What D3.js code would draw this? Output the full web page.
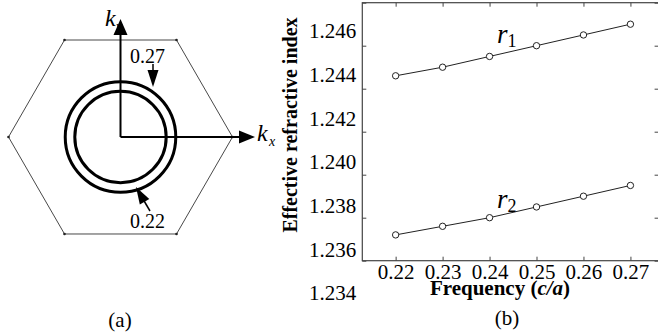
<!DOCTYPE html>
<html>
<head>
<meta charset="utf-8">
<script src="https://cdn.jsdelivr.net/npm/d3@7/dist/d3.min.js"></script>
<style>
  body { margin: 0; background: #fff; }
  svg { display: block; }
  svg text { font-family: "Liberation Serif", "Times New Roman", serif; }
</style>
</head>
<body>
<svg id="fig"></svg>
<script>
var width = 658;
var height = 333;

// panel (b) data
var freq = [0.22, 0.23, 0.24, 0.25, 0.26, 0.27];
var r1 = [1.2426, 1.2430, 1.2435, 1.2440, 1.2445, 1.2450];
var r2 = [1.2352, 1.2356, 1.2360, 1.2365, 1.2370, 1.2375];
var yTicks = [1.246, 1.244, 1.242, 1.240, 1.238, 1.236, 1.234];
var xTicks = [0.22, 0.23, 0.24, 0.25, 0.26, 0.27];

// panel (a): contour radii (units of 2pi/a), and the zone edge (K point)
var contourFreq = ["0.22", "0.27"];
var contourK = [0.272, 0.329];
var kEdge = 2 / 3;

var svg = d3.select("#fig")
    .attr("width", width)
    .attr("height", height);

// ---------- panel (a) ----------
var cx = 120.5, cy = 137;
var kx = d3.scaleLinear().domain([-kEdge, kEdge]).range([cx - 112, cx + 112]);
var ky = d3.scaleLinear().domain([-kEdge, kEdge]).range([cy + 112, cy - 112]);

var ga = svg.append("g");

var hex = d3.range(6).map(function(i){
  var a = i * Math.PI / 3;
  return [kx(kEdge * Math.cos(a)), ky(kEdge * Math.sin(a))];
});
ga.append("path")
    .attr("d", d3.line()(hex) + "Z")
    .attr("fill", "none")
    .attr("stroke", "#333")
    .attr("stroke-width", 0.9);
ga.selectAll(".vtx").data(hex).enter().append("circle")
    .attr("cx", function(d){ return d[0]; })
    .attr("cy", function(d){ return d[1]; })
    .attr("r", 1.3)
    .attr("fill", "#222");

ga.selectAll(".contour").data(contourK).enter().append("circle")
    .attr("cx", kx(0))
    .attr("cy", ky(0))
    .attr("r", function(d){ return kx(d) - kx(0); })
    .attr("fill", "none")
    .attr("stroke", "#000")
    .attr("stroke-width", 3);

// k axes
ga.append("line")
    .attr("x1", kx(0)).attr("y1", ky(0))
    .attr("x2", kx(0)).attr("y2", 34)
    .attr("stroke", "#000").attr("stroke-width", 2);
ga.append("line")
    .attr("x1", kx(0)).attr("y1", ky(0))
    .attr("x2", 241).attr("y2", ky(0))
    .attr("stroke", "#000").attr("stroke-width", 2);

function tri(tx, ty, ang, len, w){
  // arrowhead with tip at (tx,ty) pointing along ang
  var c = Math.cos(ang), s = Math.sin(ang);
  var bx = tx - len * c, by = ty - len * s;
  return "M" + tx + "," + ty +
    "L" + (bx - w / 2 * s) + "," + (by + w / 2 * c) +
    "L" + (bx + w / 2 * s) + "," + (by - w / 2 * c) + "Z";
}

ga.append("text")
    .attr("x", 105).attr("y", 26)
    .style("font-size", "24px").style("font-style", "italic")
    .text("k");
ga.append("text")
    .attr("x", 116).attr("y", 31)
    .style("font-size", "14px").style("font-style", "italic")
    .text("y");
ga.append("path").attr("d", tri(kx(0), 19, -Math.PI / 2, 16, 14)).attr("fill", "#000");
ga.append("path").attr("d", tri(255, ky(0), 0, 16, 13)).attr("fill", "#000");
ga.append("text")
    .attr("x", 257).attr("y", 141)
    .style("font-size", "24px").style("font-style", "italic")
    .text("k");
ga.append("text")
    .attr("x", 269).attr("y", 146)
    .style("font-size", "14px").style("font-style", "italic")
    .text("x");

// contour labels with arrows
ga.append("line")
    .attr("x1", 153).attr("y1", 64).attr("x2", 153).attr("y2", 72)
    .attr("stroke", "#000").attr("stroke-width", 1.5);
ga.append("path").attr("d", tri(153, 87, Math.PI / 2, 17, 11)).attr("fill", "#000");
ga.append("text")
    .attr("x", 147.5).attr("y", 63)
    .attr("text-anchor", "middle")
    .style("font-size", "20px")
    .text(contourFreq[1]);

var ang22 = Math.atan2(187 - 211, 136 - 150);
ga.append("line")
    .attr("x1", 150).attr("y1", 211).attr("x2", 140).attr("y2", 194)
    .attr("stroke", "#000").attr("stroke-width", 1.5);
ga.append("path").attr("d", tri(136, 187, ang22, 17, 11)).attr("fill", "#000");
ga.append("text")
    .attr("x", 147.5).attr("y", 228)
    .attr("text-anchor", "middle")
    .style("font-size", "20px")
    .text(contourFreq[0]);

ga.append("text")
    .attr("x", 120).attr("y", 327)
    .attr("text-anchor", "middle")
    .style("font-size", "21px")
    .text("(a)");

// ---------- panel (b) ----------
var pLeft = 362.3, pRight = 658.6, pTop = 2.7, pBottom = 260.7;
var x = d3.scaleLinear().domain([0.2129, 0.2760]).range([pLeft, pRight]);
var y = d3.scaleLinear().domain([1.234, 1.246]).range([pBottom, pTop]);
// the printed tick labels sit lower than their ticks in the source
var yLab = d3.scaleLinear().domain([1.234, 1.246]).range([293, 31]);

var gb = svg.append("g");

gb.append("rect")
    .attr("x", pLeft).attr("y", pTop)
    .attr("width", pRight - pLeft).attr("height", pBottom - pTop)
    .attr("fill", "none")
    .attr("stroke", "#444")
    .attr("stroke-width", 1.2);

var ax = gb.append("g")
    .attr("transform", "translate(0," + pBottom + ")")
    .call(d3.axisBottom(x).tickValues(xTicks).tickSizeInner(-4).tickSizeOuter(0)
      .tickPadding(3).tickFormat(d3.format(".2f")));
var axTop = gb.append("g")
    .attr("transform", "translate(0," + pTop + ")")
    .call(d3.axisTop(x).tickValues(xTicks).tickSizeInner(-4).tickSizeOuter(0).tickFormat(""));
var ay = gb.append("g")
    .attr("transform", "translate(" + pLeft + ",0)")
    .call(d3.axisLeft(y).tickValues(yTicks).tickSizeInner(-4).tickSizeOuter(0)
      .tickPadding(6).tickFormat(d3.format(".3f")));
var ayR = gb.append("g")
    .attr("transform", "translate(" + pRight + ",0)")
    .call(d3.axisRight(y).tickValues(yTicks).tickSizeInner(-4).tickSizeOuter(0).tickFormat(""));

[ax, axTop, ay, ayR].forEach(function(a){
  a.attr("font-family", null);
  a.select(".domain").remove();
  a.selectAll("line").attr("stroke", "#444");
  a.selectAll("text")
      .attr("fill", "#000")
      .style("font-size", "21px");
});
ay.selectAll("text")
    .attr("y", function(d){ return yLab(d) - y(d); });

var line = d3.line()
    .x(function(d){ return x(d[0]); })
    .y(function(d){ return y(d[1]); });

[r1, r2].forEach(function(s){
  var pts = freq.map(function(f, i){ return [f, s[i]]; });
  gb.append("path")
      .attr("d", line(pts))
      .attr("fill", "none")
      .attr("stroke", "#222")
      .attr("stroke-width", 1);
  gb.selectAll(null).data(pts).enter().append("circle")
      .attr("cx", function(d){ return x(d[0]); })
      .attr("cy", function(d){ return y(d[1]); })
      .attr("r", 3.2)
      .attr("fill", "#fff")
      .attr("stroke", "#222")
      .attr("stroke-width", 1);
});

// series labels
function seriesLabel(xx, yy, sub){
  var t = gb.append("text").attr("x", xx).attr("y", yy)
      .style("font-size", "27px").style("font-style", "italic");
  t.append("tspan").text("r");
  t.append("tspan").attr("dy", 4).style("font-size", "18px").style("font-style", "normal").text(sub);
}
seriesLabel(497, 43, "1");
seriesLabel(497, 208, "2");

gb.append("text")
    .attr("transform", "translate(297,125) rotate(-90)")
    .attr("text-anchor", "middle")
    .style("font-size", "20px")
    .style("font-weight", "bold")
    .text("Effective refractive index");

var xl = gb.append("text")
    .attr("x", 500).attr("y", 295)
    .attr("text-anchor", "middle")
    .style("font-size", "21px")
    .style("font-weight", "bold");
xl.append("tspan").text("Frequency (");
xl.append("tspan").style("font-style", "italic").text("c/a");
xl.append("tspan").text(")");

gb.append("text")
    .attr("x", 507).attr("y", 325)
    .attr("text-anchor", "middle")
    .style("font-size", "21px")
    .text("(b)");
</script>
</body>
</html>
